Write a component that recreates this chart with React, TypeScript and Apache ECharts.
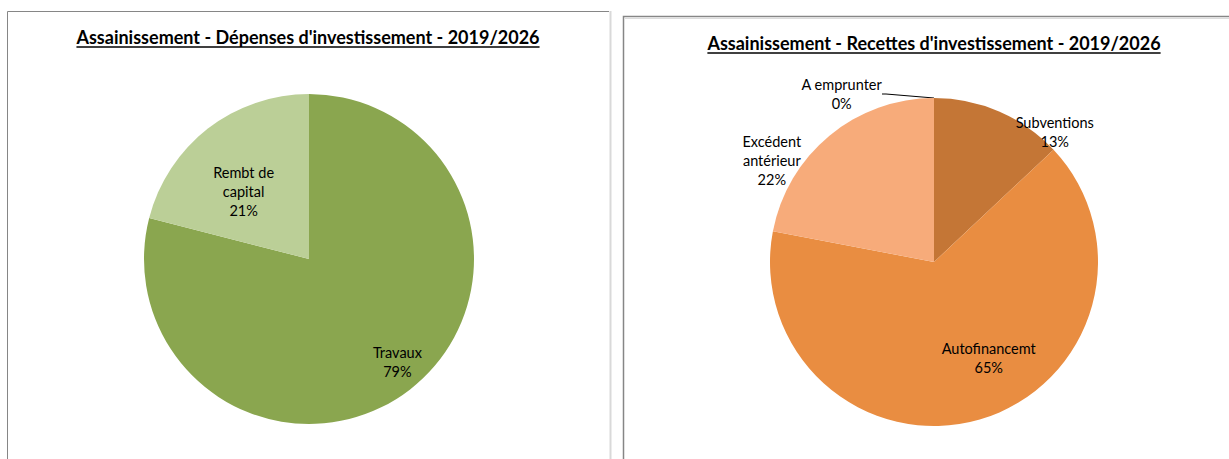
import React, { useEffect, useRef } from 'react';
import * as echarts from 'echarts';

const depCategories = ['Travaux', 'Rembt de\ncapital'];
const depValues = [79, 21];
const depColors = ['#8aa64f', '#bbcf97'];

const recCategories = ['Subventions', 'Autofinancemt', 'Excédent\nantérieur', 'A emprunter'];
const recValues = [13, 65, 22, 0];
const recColors = ['#c47636', '#e98d41', '#f7ab7a', '#b0b0b0'];

const titles = [
  "Assainissement - Dépenses d'investissement - 2019/2026",
  "Assainissement - Recettes d'investissement - 2019/2026",
];

const W = 1229;
const H = 459;
const FONT = 'Lato, "Open Sans", sans-serif';
const TITLE_SIZE = 18;
const LABEL_SIZE = 14.5;

const depOffsets = [[36, 35], [-13, 0]];
const recOffsets = [[87, -52], [31, 14], [-108, -36], [-43, 11]];

function measure(text: string, font: string): number {
  const c = document.createElement('canvas');
  const ctx = c.getContext('2d');
  if (!ctx) return text.length * 8;
  ctx.font = font;
  return ctx.measureText(text).width;
}

function layoutFn(offsets: number[][]) {
  return (p: any) => {
    const o = offsets[p.dataIndex] || [0, 0];
    const r = p.labelRect;
    return {
      x: r.x + r.width / 2 + o[0],
      y: r.y + r.height / 2 + o[1],
      align: 'center',
      verticalAlign: 'middle',
    };
  };
}

export default function App() {
  const ref = useRef<HTMLDivElement>(null);
  useEffect(() => {
    if (!ref.current) return;
    const chart = echarts.init(ref.current, null, { renderer: 'svg' });
    const titleFont = `bold ${TITLE_SIZE}px ${FONT}`;
    const tw0 = measure(titles[0], titleFont);
    const tw1 = measure(titles[1], titleFont);
    const t0 = { cx: 308, top: 28 };
    const t1 = { cx: 934, top: 34 };
    const ulOff = TITLE_SIZE + 1;

    const labelStyle = {
      color: '#000',
      fontFamily: FONT,
      fontSize: LABEL_SIZE,
      lineHeight: 19,
      formatter: '{b}\n{d}%',
    };

    chart.setOption({
      animation: false,
      backgroundColor: '#fff',
      title: [
        {
          text: titles[0],
          left: t0.cx,
          top: t0.top,
          textAlign: 'center',
          textStyle: { fontFamily: FONT, fontSize: TITLE_SIZE, fontWeight: 'bold', color: '#000' },
          padding: 0,
        },
        {
          text: titles[1],
          left: t1.cx,
          top: t1.top,
          textAlign: 'center',
          textStyle: { fontFamily: FONT, fontSize: TITLE_SIZE, fontWeight: 'bold', color: '#000' },
          padding: 0,
        },
      ],
      graphic: [
        { type: 'polyline', shape: { points: [[7.5, H], [7.5, 11.5], [609, 11.5]] }, style: { stroke: '#868686', lineWidth: 1, fill: 'none' } },
        { type: 'line', shape: { x1: 610.5, y1: 11, x2: 610.5, y2: H }, style: { stroke: '#d9d9d9', lineWidth: 2 } },
        { type: 'polyline', shape: { points: [[623.5, H], [623.5, 16.5], [W, 16.5]] }, style: { stroke: '#868686', lineWidth: 1.5, fill: 'none' } },
        { type: 'line', shape: { x1: 625, y1: 18.5, x2: W, y2: 18.5 }, style: { stroke: '#dcdcdc', lineWidth: 1 } },
        { type: 'line', shape: { x1: t0.cx - tw0 / 2, y1: t0.top + ulOff, x2: t0.cx + tw0 / 2, y2: t0.top + ulOff }, style: { stroke: '#000', lineWidth: 1.3 } },
        { type: 'line', shape: { x1: t1.cx - tw1 / 2, y1: t1.top + ulOff, x2: t1.cx + tw1 / 2, y2: t1.top + ulOff }, style: { stroke: '#000', lineWidth: 1.3 } },
      ],
      series: [
        {
          type: 'pie',
          center: [309, 259],
          radius: 165,
          startAngle: 90,
          clockwise: true,
          percentPrecision: 0,
          silent: true,
          label: { show: true, position: 'inside', ...labelStyle },
          labelLine: { show: false },
          labelLayout: layoutFn(depOffsets),
          itemStyle: { borderWidth: 0 },
          data: depCategories.map((n, i) => ({ name: n, value: depValues[i], itemStyle: { color: depColors[i] } })),
        },
        {
          type: 'pie',
          center: [934, 262],
          radius: 164,
          startAngle: 90,
          clockwise: true,
          percentPrecision: 0,
          silent: true,
          minShowLabelAngle: 0,
          label: { show: true, position: 'inside', ...labelStyle },
          labelLine: { show: false },
          labelLayout: layoutFn(recOffsets),
          itemStyle: { borderWidth: 0 },
          data: recCategories.map((n, i) => ({
            name: n,
            value: recValues[i],
            itemStyle: { color: recColors[i] },
            ...(recValues[i] === 0
              ? {
                  label: { position: 'outside' },
                  labelLine: { show: true, length: 15, length2: 4, lineStyle: { color: '#000', width: 1 } },
                }
              : {}),
          })),
        },
      ],
    });
    return () => chart.dispose();
  }, []);
  return <div ref={ref} style={{ position: 'fixed', left: 0, top: 0, width: W, height: H }} />;
}
